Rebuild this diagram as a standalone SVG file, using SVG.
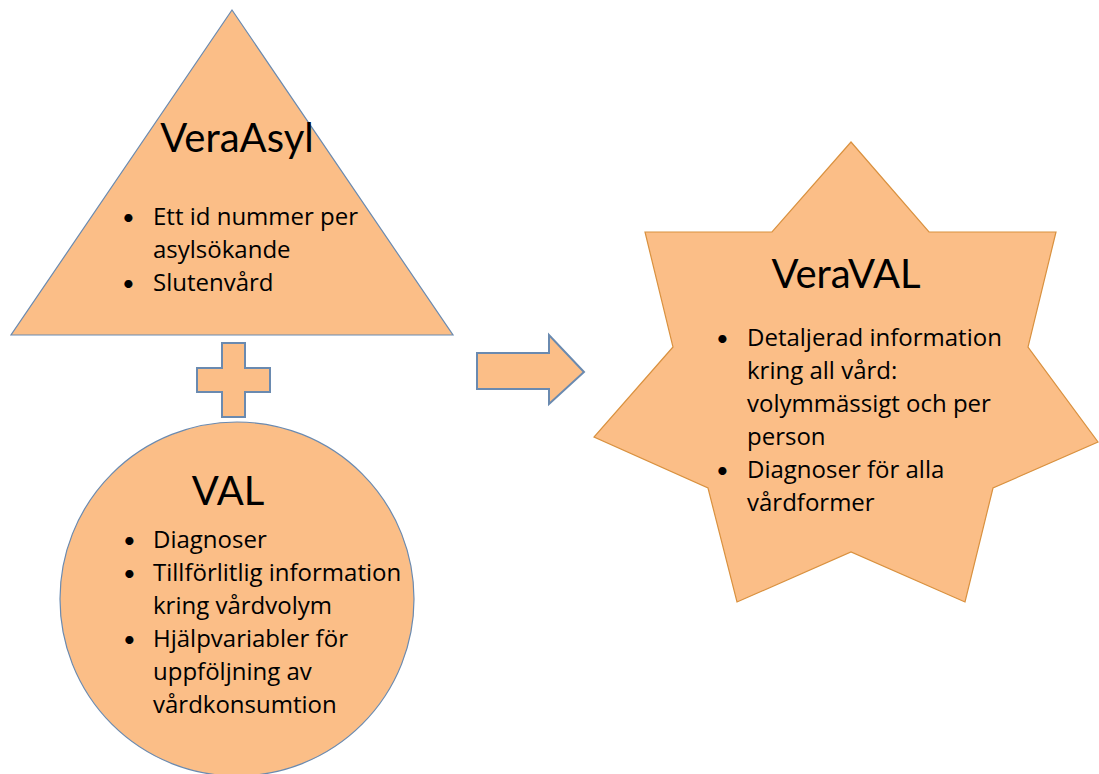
<svg xmlns="http://www.w3.org/2000/svg" width="1099" height="774" viewBox="0 0 1099 774">
<style>
.shape{fill:#fbbe87;stroke:#6a8ab0;stroke-width:1.2}
.star{fill:#fbbe87;stroke:#d9913f;stroke-width:1.2}
.thick{stroke-width:2}
text{fill:#000}
.h{font-family:Lato,"Liberation Sans",sans-serif;font-size:40px}
.b{font-family:"Open Sans","Liberation Sans",sans-serif;font-size:24px}
.d{font-family:Lato,"Liberation Sans",sans-serif;font-size:22px}
</style>
<rect width="1099" height="774" fill="#ffffff"/>
<g id="veraasyl">
<polygon class="shape" points="232,10 453,335 11,335"/>
<text class="h" x="237" y="152" text-anchor="middle">VeraAsyl</text>
<text class="d" x="122" y="225">•</text>
<text class="b" x="153" y="225">Ett id nummer per</text>
<text class="b" x="153" y="258">asylsökande</text>
<text class="d" x="122" y="291">•</text>
<text class="b" x="153" y="291">Slutenvård</text>
</g>
<g id="plus">
<polygon class="shape thick" points="222,343 245,343 245,368 270,368 270,392 245,392 245,417 222,417 222,392 197,392 197,368 222,368"/>
</g>
<g id="val">
<circle class="shape" cx="237" cy="599" r="177"/>
<text class="h" x="228" y="505" text-anchor="middle">VAL</text>
<text class="d" x="123" y="548">•</text>
<text class="b" x="153" y="548">Diagnoser</text>
<text class="d" x="123" y="581">•</text>
<text class="b" x="153" y="581">Tillförlitlig information</text>
<text class="b" x="153" y="614">kring vårdvolym</text>
<text class="d" x="123" y="647">•</text>
<text class="b" x="153" y="647">Hjälpvariabler för</text>
<text class="b" x="153" y="680">uppföljning av</text>
<text class="b" x="153" y="713">vårdkonsumtion</text>
</g>
<g id="connectors">
<polygon class="shape thick" points="477,353 549,353 549,335 584,372 549,404 549,389 477,389"/>
</g>
<g id="veraval">
<polygon class="star" points="851,142 929,232 1056,232 1028,347 1098,442 993,488 965,602 851,552 737,602 708,488 594,437 673,347 645,232 772,232"/>
<text class="h" x="846" y="288" text-anchor="middle">VeraVAL</text>
<text class="d" x="716" y="346">•</text>
<text class="b" x="747" y="346">Detaljerad information</text>
<text class="b" x="747" y="379">kring all vård:</text>
<text class="b" x="747" y="412">volymmässigt och per</text>
<text class="b" x="747" y="445">person</text>
<text class="d" x="716" y="478">•</text>
<text class="b" x="747" y="478">Diagnoser för alla</text>
<text class="b" x="747" y="511">vårdformer</text>
</g>
</svg>
